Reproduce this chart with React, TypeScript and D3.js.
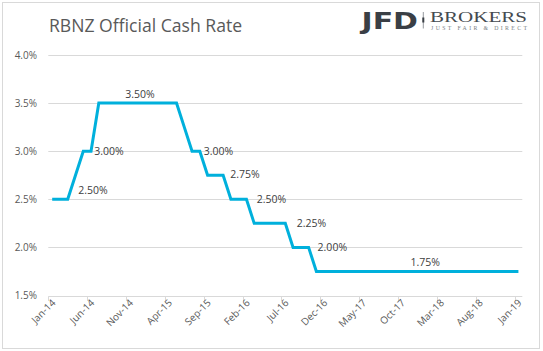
import React from "react";
import * as d3 from "d3";

const months: string[] = [
  "Jan-14","Feb-14","Mar-14","Apr-14","May-14","Jun-14","Jul-14","Aug-14","Sep-14","Oct-14","Nov-14","Dec-14",
  "Jan-15","Feb-15","Mar-15","Apr-15","May-15","Jun-15","Jul-15","Aug-15","Sep-15","Oct-15","Nov-15","Dec-15",
  "Jan-16","Feb-16","Mar-16","Apr-16","May-16","Jun-16","Jul-16","Aug-16","Sep-16","Oct-16","Nov-16","Dec-16",
  "Jan-17","Feb-17","Mar-17","Apr-17","May-17","Jun-17","Jul-17","Aug-17","Sep-17","Oct-17","Nov-17","Dec-17",
  "Jan-18","Feb-18","Mar-18","Apr-18","May-18","Jun-18","Jul-18","Aug-18","Sep-18","Oct-18","Nov-18","Dec-18",
  "Jan-19",
];

const rates: number[] = [
  2.5, 2.5, 2.5, 2.75, 3.0, 3.0, 3.5, 3.5, 3.5, 3.5, 3.5, 3.5,
  3.5, 3.5, 3.5, 3.5, 3.5, 3.25, 3.0, 3.0, 2.75, 2.75, 2.75, 2.5,
  2.5, 2.5, 2.25, 2.25, 2.25, 2.25, 2.25, 2.0, 2.0, 2.0, 1.75, 1.75,
  1.75, 1.75, 1.75, 1.75, 1.75, 1.75, 1.75, 1.75, 1.75, 1.75, 1.75, 1.75,
  1.75, 1.75, 1.75, 1.75, 1.75, 1.75, 1.75, 1.75, 1.75, 1.75, 1.75, 1.75,
  1.75,
];

const yTicks: number[] = [1.5, 2.0, 2.5, 3.0, 3.5, 4.0];
const xTickEvery = 5;

// data labels: anchored at a data point (month index)
const labelPoints: number[] = [2, 5, 11, 19, 22, 25, 30, 33, 48];
const labelTexts: string[] = ["2.50%", "3.00%", "3.50%", "3.00%", "2.75%", "2.50%", "2.25%", "2.00%", "1.75%"];
// styling: placement & pixel nudges
const labelStyle: { anchor: string; dx: number; dy: number }[] = [
  { anchor: "start", dx: 10.6, dy: -8.8 },
  { anchor: "start", dx: 3.3, dy: 0 },
  { anchor: "middle", dx: 2.3, dy: -8.5 },
  { anchor: "start", dx: 4, dy: 0 },
  { anchor: "start", dx: 7, dy: -0.8 },
  { anchor: "start", dx: 10.4, dy: -0.3 },
  { anchor: "start", dx: 11.4, dy: -0.3 },
  { anchor: "start", dx: 9, dy: 0 },
  { anchor: "middle", dx: 0, dy: -9 },
];

const W = 543;
const H = 351;
const plotLeft = 48.3;
const plotRight = 522.3;
const yTop = 55;
const yBottom = 295.5;
const FONT = "'Open Sans', sans-serif";

export default function App() {
  const x = d3
    .scaleBand<number>()
    .domain(d3.range(months.length))
    .range([plotLeft, plotRight])
    .padding(0);
  const bw = x.bandwidth();
  const cx = (i: number) => (x(i) as number) + bw / 2;
  const y = d3.scaleLinear().domain([1.5, 4.0]).range([yBottom, yTop]);

  const line = d3
    .line<number>()
    .x((_, i) => cx(i))
    .y((d) => y(d))
    .curve(d3.curveLinear);

  const tickIdx = d3.range(0, months.length, xTickEvery);

  return (
    <svg
      width={W}
      height={H}
      style={{ position: "absolute", left: 0, top: 0, display: "block", background: "#fff" }}
      fontFamily={FONT}
    >
      <rect x={2.5} y={2.5} width={537} height={346} fill="#fff" stroke="#d9d9d9" strokeWidth={1} />

      {/* title */}
      <text x={49} y={31.5} fontSize={17.6} fill="#595959">
        RBNZ Official Cash Rate
      </text>

      {/* logo */}
      <g>
        <text
          x={361.5}
          y={28.5}
          fontSize={22.5}
          fontWeight={700}
          fill="#3a3f45"
          fontFamily="'DejaVu Sans', sans-serif"
          textLength={56.5}
          lengthAdjust="spacingAndGlyphs"
        >
          JFD
        </text>
        <line x1={423.3} x2={423.3} y1={12} y2={28.5} stroke="#7a7f85" strokeWidth={0.8} />
        <rect x={422.3} y={17.5} width={2} height={5} fill="#3a3f45" />
        <text
          x={430}
          y={21.8}
          fontSize={15}
          fill="#444a50"
          fontFamily="'Liberation Serif', 'DejaVu Serif', serif"
          textLength={97}
          lengthAdjust="spacingAndGlyphs"
        >
          BROKERS
        </text>
        <text
          x={431}
          y={29.8}
          fontSize={5.8}
          fill="#7a7f85"
          fontFamily="'Liberation Serif', 'DejaVu Serif', serif"
          textLength={96}
          lengthAdjust="spacing"
        >
          JUST FAIR &amp; DIRECT
        </text>
      </g>

      {/* gridlines */}
      {yTicks.slice(1).map((t) => (
        <line
          key={"g" + t}
          x1={plotLeft}
          x2={plotRight}
          y1={Math.round(y(t)) + 0.5}
          y2={Math.round(y(t)) + 0.5}
          stroke="#d9d9d9"
          strokeWidth={1}
        />
      ))}

      {/* y tick labels */}
      {yTicks.map((t) => (
        <text
          key={"yl" + t}
          x={37}
          y={y(t)}
          dy="0.35em"
          textAnchor="end"
          fontSize={10}
          fill="#595959"
        >
          {t.toFixed(1) + "%"}
        </text>
      ))}

      {/* x axis */}
      <line
        x1={plotLeft}
        x2={plotRight}
        y1={Math.round(yBottom) + 0.5}
        y2={Math.round(yBottom) + 0.5}
        stroke="#d9d9d9"
        strokeWidth={1}
      />
      {tickIdx.map((i) => (
        <line
          key={"xt" + i}
          x1={Math.round(x(i) as number) + 0.5}
          x2={Math.round(x(i) as number) + 0.5}
          y1={Math.round(yBottom) + 0.5}
          y2={Math.round(yBottom) + 5}
          stroke="#d9d9d9"
          strokeWidth={1}
        />
      ))}
      {tickIdx.map((i) => (
        <text
          key={"xl" + i}
          transform={`translate(${cx(i) + 4},${yBottom + 8}) rotate(-45)`}
          textAnchor="end"
          fontSize={10}
          fill="#595959"
        >
          {months[i]}
        </text>
      ))}

      {/* line */}
      <path d={line(rates) || ""} fill="none" stroke="#00b0dc" strokeWidth={3} strokeLinejoin="miter" />

      {/* data labels */}
      {labelPoints.map((p, k) => (
        <text
          key={"dl" + k}
          x={cx(p) + labelStyle[k].dx}
          y={y(rates[p]) + labelStyle[k].dy}
          dy="0.35em"
          textAnchor={labelStyle[k].anchor}
          fontSize={10.5}
          fill="#404040"
        >
          {labelTexts[k]}
        </text>
      ))}
    </svg>
  );
}
